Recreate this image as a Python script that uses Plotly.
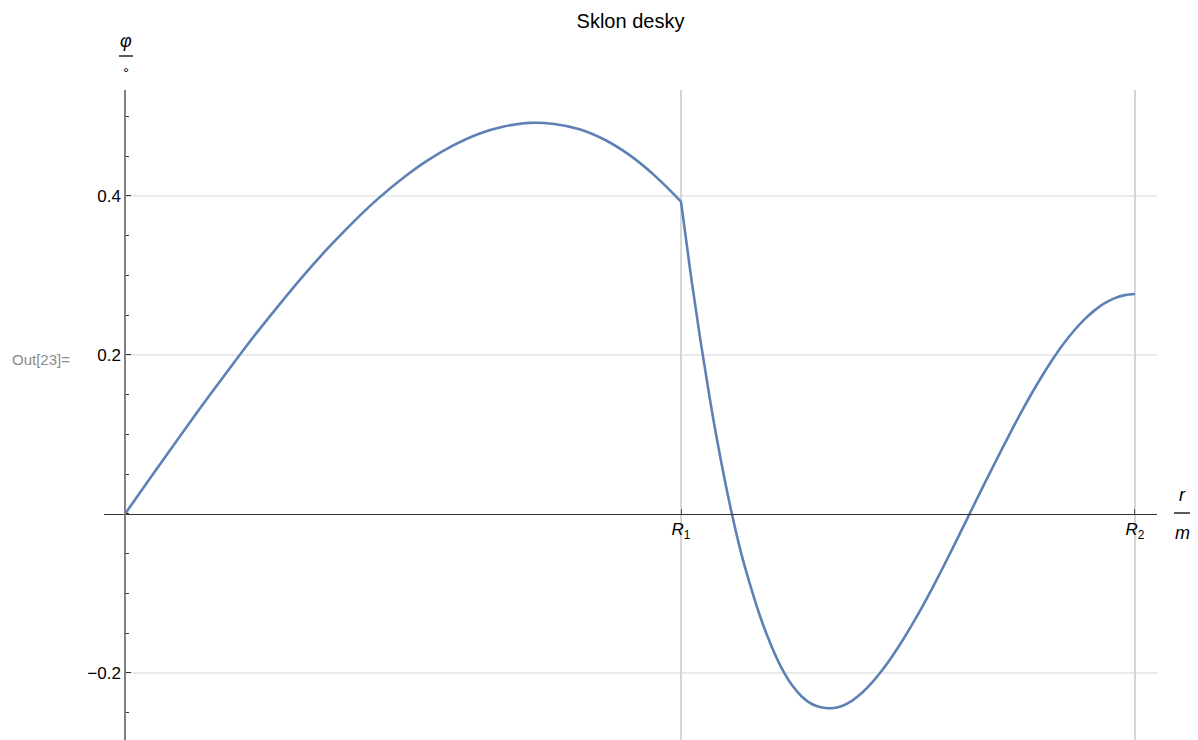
import plotly.graph_objects as go

# ---- data ----
R1 = 0.5505
R2 = 1.0

r_inner = [0.0, 0.025, 0.05, 0.075, 0.10, 0.125, 0.15, 0.175, 0.20, 0.225, 0.25, 0.275,
           0.30, 0.325, 0.35, 0.375, 0.40, 0.425, 0.45, 0.475, 0.50, 0.525, 0.5505]
phi_inner = [0.0, 0.0452, 0.090, 0.1342, 0.177, 0.2192, 0.259, 0.2973, 0.333, 0.3659, 0.396, 0.4223,
             0.445, 0.4636, 0.478, 0.4873, 0.492, 0.4906, 0.484, 0.4707, 0.451, 0.4250, 0.393]

r_outer = [0.5505, 0.56, 0.57, 0.58, 0.59, 0.60, 0.61, 0.62, 0.63, 0.64, 0.65, 0.66, 0.67,
           0.68, 0.69, 0.70, 0.71, 0.72, 0.73, 0.74, 0.75, 0.76, 0.77, 0.78, 0.79, 0.80,
           0.81, 0.82, 0.83, 0.84, 0.85, 0.86, 0.87, 0.88, 0.89, 0.90, 0.91, 0.92, 0.93,
           0.94, 0.95, 0.96, 0.97, 0.98, 0.99, 1.0]
phi_outer = [0.393, 0.3027, 0.2161, 0.1377, 0.0675, 0.0052, -0.0490, -0.0935, -0.1330, -0.1660,
             -0.1935, -0.2145, -0.2295, -0.2390, -0.2435, -0.2443, -0.2415, -0.2348, -0.2246,
             -0.2115, -0.1959, -0.1782, -0.1588, -0.1377, -0.1153, -0.0916, -0.0670, -0.0417,
             -0.0160, 0.0100, 0.0357, 0.0610, 0.0860, 0.1104, 0.1340, 0.1566, 0.1777, 0.1974,
             0.2153, 0.2311, 0.2448, 0.2561, 0.2651, 0.2715, 0.2753, 0.2767]

y_major = [-0.2, 0.2, 0.4]
y_major_text = ["\u22120.2", "0.2", "0.4"]
x_ticks = [R1, R2]
x_ticktext = ["<i>R</i><sub>1</sub>", "<i>R</i><sub>2</sub>"]

# ---- layout geometry (page has an 8px body margin) ----
OFF = 8
W, H = 1198 - OFF, 740 - OFF
X_RANGE = [-0.0208, 1.0218]
Y_RANGE = [-0.2843, 0.5333]
LINE_COLOR = "#5E81B5"
FONT = "Liberation Sans, Arial, sans-serif"

fig = go.Figure()
for xs, ys in ((r_inner, phi_inner), (r_outer, phi_outer)):
    fig.add_trace(go.Scatter(x=xs, y=ys, mode="lines",
                             line=dict(color=LINE_COLOR, width=2.6, shape="spline", smoothing=1.0),
                             showlegend=False, hoverinfo="skip"))

# horizontal grid lines starting at the y axis
for v in y_major:
    fig.add_shape(type="line", xref="x", yref="y", x0=0, x1=X_RANGE[1], y0=v, y1=v,
                  line=dict(color="#d6d6d6", width=1), layer="below")

minor_vals = [round(-0.25 + 0.05 * i, 2) for i in range(16)]
minor_vals = [v for v in minor_vals if v not in y_major]

x_axis_pos = (0 - Y_RANGE[0]) / (Y_RANGE[1] - Y_RANGE[0])
y_axis_pos = (0 - X_RANGE[0]) / (X_RANGE[1] - X_RANGE[0])

fig.update_layout(
    width=W, height=H,
    margin=dict(l=104 - OFF, r=41, t=90 - OFF, b=0, pad=0, autoexpand=False),
    paper_bgcolor="white", plot_bgcolor="white",
    font=dict(family=FONT, color="black", size=16),
    title=dict(text="Sklon desky", x=0.5, xref="paper", xanchor="center",
               y=1 - (21 - OFF) / H, yref="container", yanchor="middle",
               font=dict(size=20, family=FONT, color="black")),
    xaxis=dict(range=X_RANGE, anchor="free", position=x_axis_pos,
               showline=True, linecolor="#333333", linewidth=1,
               tickmode="array", tickvals=x_ticks, ticktext=x_ticktext,
               ticks="inside", ticklen=5, tickcolor="#555555",
               showgrid=True, gridcolor="#d6d6d6", gridwidth=1.5,
               zeroline=False, tickfont=dict(size=17, family=FONT)),
    yaxis=dict(range=Y_RANGE, anchor="free", position=y_axis_pos,
               showline=True, linecolor="#808080", linewidth=1.5,
               tickmode="array", tickvals=y_major, ticktext=y_major_text,
               ticks="inside", ticklen=5, tickcolor="#333333",
               minor=dict(tickmode="array", tickvals=minor_vals, ticks="inside", ticklen=3,
                          tickcolor="#333333", showgrid=False),
               showgrid=False, zeroline=False, tickfont=dict(size=17, family=FONT)),
)

def px_to_paper(px, py):
    return (px - 104) / 1053, (740 - py) / 650

annots = []
ax, ay = px_to_paper(126, 41)
annots.append(dict(text="<i>\u03c6</i>", x=ax, y=ay, font=dict(size=18)))
ax, ay = px_to_paper(126, 72)
annots.append(dict(text="\u00b0", x=ax, y=ay, font=dict(size=15)))
ax, ay = px_to_paper(1182, 495)
annots.append(dict(text="<i>r</i>", x=ax, y=ay, font=dict(size=18)))
ax, ay = px_to_paper(1182, 533)
annots.append(dict(text="<i>m</i>", x=ax, y=ay, font=dict(size=18)))
ax, ay = px_to_paper(10, 359)
annots.append(dict(text="Out[23]=", x=ax, y=ay, xanchor="left", font=dict(size=15, color="#8a8a8a")))

for a in annots:
    a.setdefault("xanchor", "center")
    fig.add_annotation(xref="paper", yref="paper", showarrow=False, yanchor="middle", **a)

# fraction bars
x0, y0 = px_to_paper(119, 56)
x1, _ = px_to_paper(133, 56)
fig.add_shape(type="line", xref="paper", yref="paper", x0=x0, x1=x1, y0=y0, y1=y0, line=dict(color="black", width=1.3))
x0, y0 = px_to_paper(1174, 513)
x1, _ = px_to_paper(1191, 513)
fig.add_shape(type="line", xref="paper", yref="paper", x0=x0, x1=x1, y0=y0, y1=y0, line=dict(color="black", width=1.3))

fig.write_html("out.html")
